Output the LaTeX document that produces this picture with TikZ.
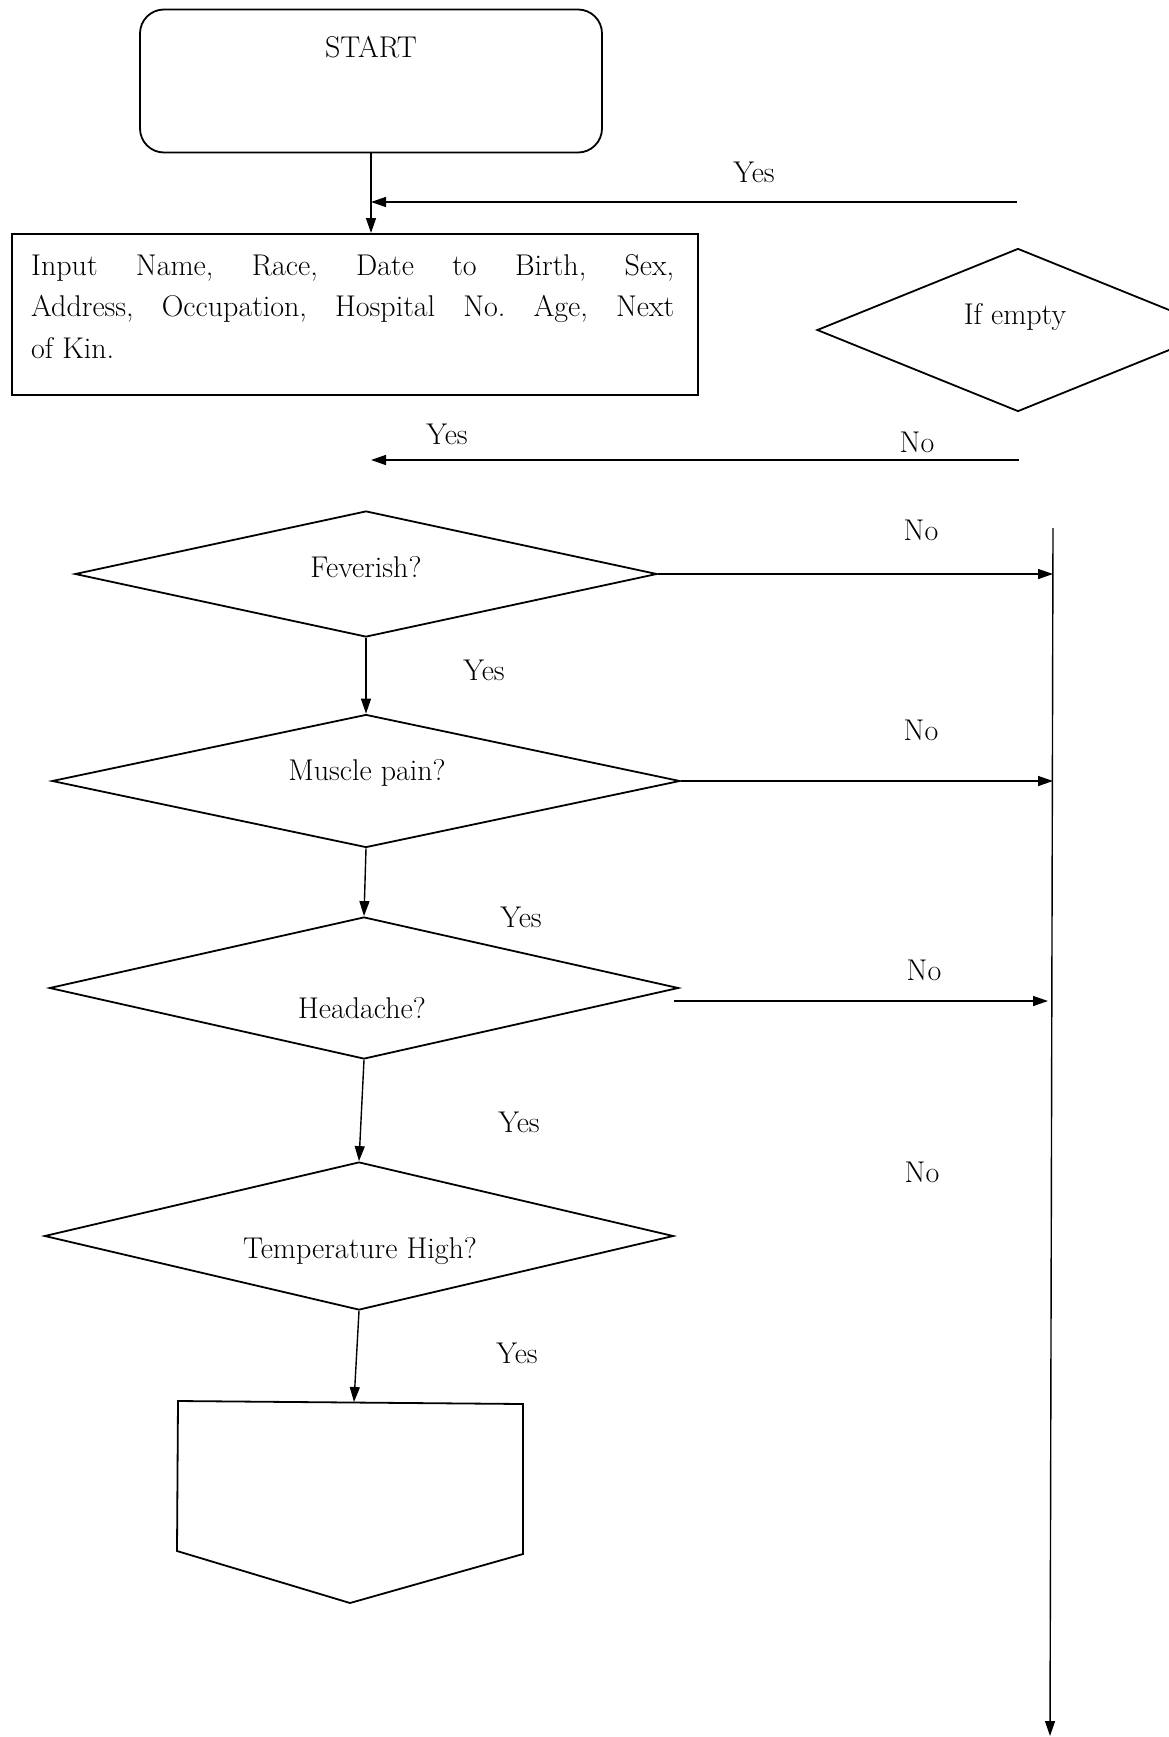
\documentclass[tikz,border=0pt]{standalone}
\usetikzlibrary{shapes.geometric,arrows.meta}
\hbadness=10000
\frenchspacing
\begin{document}
\begin{tikzpicture}[x=1pt,y=-1pt,
  shapeline/.style={draw=black,line width=1.8pt},
  dia/.style={shapeline,diamond,inner sep=0pt,aspect=4},
  conn/.style={line width=1.4pt,-{Triangle[length=15pt,width=10pt]}},
  lbl/.style={inner sep=0pt,font=\fontsize{30}{36}\selectfont},
]
\useasboundingbox (0,0) rectangle (1169,1737);
\clip (0,0) rectangle (1169,1737);

% START terminal
\node[shapeline,rounded corners=24pt,minimum width=462pt,minimum height=143pt,inner sep=0pt] (start) at (371,81) {};
\node[lbl] (starttxt) at (371,47) {START};

% input box
\node[shapeline,minimum width=686pt,minimum height=161pt,inner sep=0pt,anchor=north west] (input) at (11,233) {};
\node[inner sep=0pt,anchor=north west,text width=643pt,align=justify,font=\fontsize{30}{41.5}\selectfont] (inputtxt) at (31,254) {Input Name, Race, Date to Birth, Sex,\linebreak Address, Occupation, Hospital No. Age, Next\linebreak of Kin.};

% decisions
\node[dia,minimum width=402pt,minimum height=163pt] (empty) at (1018,330) {};
\node[lbl] (emptytxt) at (1015,317) {If empty};

\node[dia,minimum width=582pt,minimum height=126pt] (fev) at (366,574) {};
\node[lbl] (fevtxt) at (366,567) {Feverish?};

\node[dia,minimum width=628pt,minimum height=133pt] (mus) at (366,781) {};
\node[lbl] (mustxt) at (367,773) {Muscle pain?};

\node[dia,minimum width=629pt,minimum height=142pt] (head) at (364,988) {};
\node[lbl] (headtxt) at (362,1008) {Headache?};

\node[dia,minimum width=629pt,minimum height=148pt] (temp) at (359,1236) {};
\node[lbl] (temptxt) at (360,1251) {Temperature High?};

% off-page connector
\coordinate (ptl) at (178,1401);
\coordinate (ptr) at (523,1404);
\coordinate (pbr) at (523,1554);
\coordinate (ptip) at (350,1603);
\coordinate (pbl) at (177,1551);
\coordinate (ptop) at (354,1402);
\draw[shapeline,line join=miter] (ptl) -- (ptr) -- (pbr) -- (ptip) -- (pbl) -- cycle;

% right vertical line
\coordinate (rtop) at (1053,528);
\coordinate (rbot) at (1050,1736);
\draw[conn] (rtop) -- (rbot);

% connectors
\draw[conn] (start.south) -- (start.south |- input.north);
\coordinate (yesA) at (1017,202);
\draw[conn] (yesA) -- (start.south |- yesA);
\coordinate (noB) at (1019,460);
\draw[conn] (noB) -- (start.south |- noB);

\draw[conn] (fev.east) -- (fev.east -| rtop);
\draw[conn] (mus.east) -- (mus.east -| rtop);
\draw[conn] ([shift={(-5,13)}]head.east) -- ([shift={(-5,13)}]head.east -| rtop);

\draw[conn] (fev.south) -- (mus.north);
\draw[conn] (mus.south) -- (head.north);
\draw[conn] (head.south) -- (temp.north);
\draw[conn] (temp.south) -- (ptop);

% labels
\node[lbl] (y1) at (754,172) {Yes};
\node[lbl] (y2) at (447,434) {Yes};
\node[lbl] (n2) at (917,442) {No};
\node[lbl] (n3) at (921,530) {No};
\node[lbl] (y3) at (484,670) {Yes};
\node[lbl] (n4) at (921,730) {No};
\node[lbl] (y4) at (521,917) {Yes};
\node[lbl] (n5) at (924,970) {No};
\node[lbl] (y5) at (519,1122) {Yes};
\node[lbl] (n6) at (922,1172) {No};
\node[lbl] (y6) at (517,1353) {Yes};
\end{tikzpicture}
\end{document}
